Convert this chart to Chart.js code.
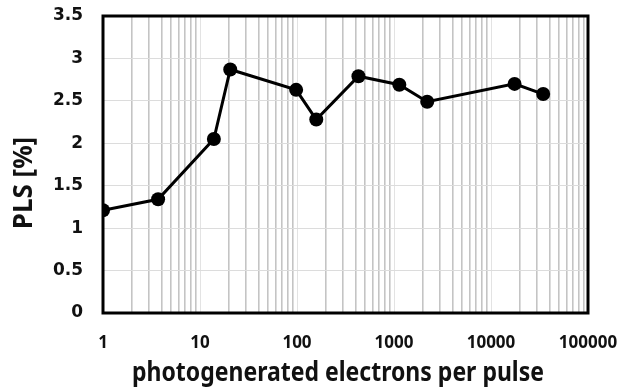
<!DOCTYPE html>
<html>
<head>
<meta charset="utf-8">
<script src="https://cdn.jsdelivr.net/npm/chart.js@4.4.1/dist/chart.umd.min.js"></script>
<style>
  html, body { margin: 0; padding: 0; background: #fff; }
  #wrap { width: 621px; height: 388px; }
</style>
</head>
<body>
<div id="wrap"><canvas id="plsChart"></canvas></div>
<script>
// electrons per pulse vs PLS
var electrons = [1, 3.7, 13.9, 20.5, 98, 158, 430, 1135, 2200, 17500, 34500];
var pls = [1.21, 1.34, 2.05, 2.87, 2.63, 2.28, 2.79, 2.69, 2.49, 2.70, 2.58];
var xTitle = 'photogenerated electrons per pulse';
var yTitle = 'PLS [%]';

var points = electrons.map(function(e, i) { return { x: e, y: pls[i] }; });

function isDecade(v) {
  var l = Math.log10(v);
  return Math.abs(l - Math.round(l)) < 1e-9;
}

var fontFam = '"Noto Sans", "DejaVu Sans", sans-serif';

// black frame + axis titles
var framePlugin = {
  id: 'frame',
  afterDatasetsDraw: function(chart) {
    var a = chart.chartArea, c = chart.ctx;
    c.save();
    c.strokeStyle = '#000';
    c.lineWidth = 3;
    c.strokeRect(a.left, a.top, a.right - a.left, a.bottom - a.top);
    c.restore();
  },
  afterDraw: function(chart) {
    var c = chart.ctx;
    c.save();
    c.fillStyle = '#111';
    c.font = 'bold 26px ' + fontFam;
    c.textAlign = 'center';
    c.textBaseline = 'alphabetic';
    c.fillText(xTitle, 338, 381, 412);
    c.translate(32, 183);
    c.rotate(-Math.PI / 2);
    c.fillText(yTitle, 0, 0, 104);
    c.restore();
  }
};

var ctx = document.getElementById('plsChart').getContext('2d');
var chart = new Chart(ctx, {
  type: 'line',
  data: {
    datasets: [{
      data: points,
      borderColor: '#000',
      backgroundColor: '#000',
      borderWidth: 3,
      pointRadius: 7,
      pointHoverRadius: 7,
      pointBackgroundColor: '#000',
      pointBorderWidth: 0,
      tension: 0
    }]
  },
  options: {
    responsive: true,
    maintainAspectRatio: false,
    animation: false,
    layout: { padding: { top: 16, right: 33, left: 0, bottom: 0 } },
    plugins: { legend: { display: false }, tooltip: { enabled: false } },
    scales: {
      x: {
        type: 'logarithmic',
        min: 1,
        max: 100000,
        afterBuildTicks: function(scale) {
          var t = [];
          for (var d = 0; d < 5; d++) {
            for (var m = 1; m < 10; m++) t.push({ value: m * Math.pow(10, d) });
          }
          t.push({ value: 100000 });
          scale.ticks = t;
        },
        afterFit: function(scale) {
          scale.height = 75;
          scale.paddingLeft = 0;
          scale.paddingRight = 0;
        },
        border: { display: false },
        grid: {
          drawTicks: false,
          color: function(c) { return isDecade(c.tick.value) ? '#e3e3e3' : '#c4c4c4'; },
          lineWidth: function(c) { return isDecade(c.tick.value) ? 1 : 1.6; }
        },
        ticks: {
          autoSkip: false,
          maxRotation: 0,
          padding: 20,
          color: '#111',
          font: { family: fontFam, size: 17, weight: 'bold' },
          callback: function(v) { return isDecade(v) ? String(v) : ''; }
        }
      },
      y: {
        min: 0,
        max: 3.5,
        afterFit: function(scale) {
          scale.width = 103;
          scale.paddingTop = 0;
          scale.paddingBottom = 0;
        },
        border: { display: false },
        grid: { drawTicks: false, color: '#dcdcdc', lineWidth: 1 },
        ticks: {
          stepSize: 0.5,
          padding: 20,
          color: '#111',
          font: { family: '"DejaVu Sans", sans-serif', size: 17, weight: 'bold' },
          callback: function(v) { return String(v); }
        }
      }
    }
  },
  plugins: [framePlugin]
});
</script>
</body>
</html>
